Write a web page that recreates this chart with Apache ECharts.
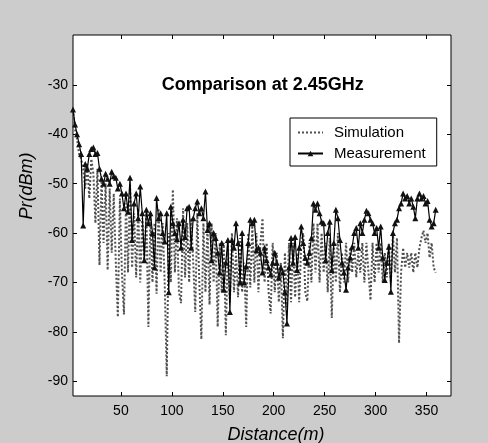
<!DOCTYPE html>
<html><head><meta charset="utf-8">
<script src="https://cdn.jsdelivr.net/npm/echarts@6/dist/echarts.min.js"></script>
<style>html,body{margin:0;padding:0;background:#cccccc;} #c{width:488px;height:443px;}</style>
</head><body><div id="c"></div>
<script>
const distance = [3,5,7,9,11,13,15,17,19,21,23,25,27,29,31,33,35,37,39,41,43,45,47,49,51,53,55,57,59,61,
63,65,67,69,71,73,75,77,79,81,83,85,87,89,91,93,95,97,99,101,103,105,107,109,111,113,115,117,119,121,
123,125,127,129,131,133,135,137,139,141,143,145,147,149,151,153,155,157,159,161,163,165,167,169,171,
173,175,177,179,181,183,185,187,189,191,193,195,197,199,201,203,205,207,209,211,213,215,217,219,221,
223,225,227,229,231,233,235,237,239,241,243,245,247,249,251,253,255,257,259,261,263,265,267,269,271,
273,275,277,279,281,283,285,287,289,291,293,295,297,299,301,303,305,307,309,311,313,315,317,319,321,
323,325,327,329,331,333,335,337,339,341,343,345,347,349,351,353,355,357,359];
const simulation = [-35,-39,-41,-44,-45, -47,-51,-46,-53,-45, -48,-58,-47,-66.5,-49, -62,-50,-67.5,-51,-64,
-52,-66,-77,-53,-68, -76.5,-54,-68,-50,-67, -56,-69,-55,-70,-57, -66,-56,-79,-56,-70,
-58,-72.3,-55,-68,-58, -70,-89,-60,-70,-51.2, -68,-57,-72,-74.2,-55, -69,-58,-70,-57,-66,
-76,-56,-70,-81.5,-58, -72,-58,-74.5,-58,-70, -60,-79,-62,-72,-62, -80.7,-62,-74,-60,-72,
-64,-73,-61,-72,-66, -79,-60,-71,-58.5,-70, -60,-72,-62,-57,-70, -62,-72,-76.3,-62,-72,
-64,-74,-66,-81.3,-64, -75,-62,-74,-62,-73, -64,-74,-62,-60,-72, -73.8,-62,-70,-58,-68,
-58,-70,-60,-68,-62, -72,-61,-77.2,-62,-70, -60,-72,-64,-70,-62, -70,-63,-68,-62,-69,
-64,-68,-62,-70,-62, -68,-73.6,-62,-70,-62, -68,-62,-70,-64,-69, -62,-70,-60,-68,-61,
-82.3,-68,-63,-67,-64, -67,-64,-68,-64,-67, -63,-61,-59.5,-62,-60, -65,-62,-67,-68];
const measurement = [-35,-38,-40,-42,-44, -58.5,-46,-47,-44,-43, -42.7,-44,-43.8,-47,-49, -50,-48,-49,-50,-47.6,
-48.5,-48.8,-51,-50,-52, -55,-52,-55.7,-48.8,-61.4, -54,-52,-57,-50.6,-56, -65.5,-55.3,-58,-56,-60,
-67,-52.9,-57,-56,-60, -61.7,-56,-72,-54.7,-58, -60,-61.2,-58,-63,-57.3, -60.8,-55,-54.7,-63,-57,
-55,-53.6,-56,-55,-57, -51.6,-59.4,-58,-65.5,-60, -61,-64,-68,-62,-71.5, -66,-61.4,-76,-61.4,-63,
-58,-62,-70,-60,-70, -66.8,-62,-57.3,-58,-57.3, -63.5,-63,-64,-68,-63, -65.5,-67,-68.4,-66,-64,
-66,-69,-67,-68,-72, -78.3,-67,-61,-66,-60.8, -67.5,-63,-58.7,-62,-65, -66,-64,-61,-54,-55.3,
-54,-56,-57.7,-58,-65.5, -60,-57.7,-67.5,-62,-55.3, -57,-61.4,-66,-68,-71.5, -67,-65,-62.8,-60,-59,
-63,-58,-60,-57.3,-55.5, -56,-57.3,-58,-60,-59, -63,-58.7,-65,-69.5,-66, -62.8,-71.9,-60,-58,-57.3,
-55,-54,-52,-53,-52.5, -54,-53,-54.7,-57,-53, -52,-53,-52.5,-54,-53.5, -57.3,-58.7,-58,-55.3];
const xTicks = [50,100,150,200,250,300,350];
const yTicks = [-90,-80,-70,-60,-50,-40,-30];
const chartTitle = 'Comparison at 2.45GHz';
const xName = 'Distance(m)';
const yName = 'Pr(dBm)';
const seriesNames = ['Simulation','Measurement'];

const F = "'Liberation Sans', Arial, sans-serif";
function xAx(pos, showLabel) {
  return {type:'value', position:pos, min:3, max:374, axisLine:{show:false}, splitLine:{show:false},
    axisTick:{show:true, inside:true, length:4, customValues:xTicks, lineStyle:{color:'#000'}},
    axisLabel:{show:showLabel, customValues:xTicks, color:'#000', fontSize:14, fontFamily:F, margin:8}};
}
function yAx(pos, showLabel) {
  return {type:'value', position:pos, min:-93, max:-19.9, axisLine:{show:false}, splitLine:{show:false},
    axisTick:{show:true, inside:true, length:4, customValues:yTicks, lineStyle:{color:'#000'}},
    axisLabel:{show:showLabel, customValues:yTicks, color:'#000', fontSize:14, fontFamily:F, margin:5}};
}
const chart = echarts.init(document.getElementById('c'));
chart.setOption({
  backgroundColor:'#cccccc',
  animation:false,
  grid:{left:73, top:35, width:378, height:361, show:true, backgroundColor:'#fff', borderColor:'#000', borderWidth:1},
  xAxis:[xAx('bottom', true), xAx('top', false)],
  yAxis:[yAx('left', true), yAx('right', false)],
  legend:{data:[{name:seriesNames[0], itemStyle:{opacity:0}}, {name:seriesNames[1]}],
    orient:'vertical', left:290, top:118, padding:[7,11,5,7], itemGap:6,
    itemWidth:25, itemHeight:7, backgroundColor:'#fff', borderColor:'#000', borderWidth:1, borderRadius:0,
    textStyle:{fontSize:15, fontFamily:F, color:'#000', lineHeight:14, padding:[0,0,0,6]}},
  graphic:[
    {type:'text', style:{text:chartTitle, font:"bold 18px 'Liberation Sans', Arial", fill:'#000', x:262.7, y:85, align:'center', verticalAlign:'middle'}},
    {type:'text', style:{text:xName, font:"italic 18px 'Liberation Sans', Arial", fill:'#000', x:276, y:435, align:'center', verticalAlign:'middle'}},
    {type:'text', x:27, y:186, rotation:Math.PI/2, style:{text:yName, font:"italic 18px 'Liberation Sans', Arial", fill:'#000', x:0, y:0, align:'center', verticalAlign:'middle'}}
  ],
  series:[
    {type:'line', name:seriesNames[0], data:distance.map((d,i)=>[d, simulation[i]]), symbol:'none',
      lineStyle:{type:[2,2], width:2, color:'#505050'}, itemStyle:{color:'#505050'}, z:2},
    {type:'line', name:seriesNames[1], data:distance.map((d,i)=>[d, measurement[i]]), symbol:'triangle', symbolSize:6,
      showAllSymbol:true, lineStyle:{width:1.2, color:'#000'}, itemStyle:{color:'#111'}, z:3}
  ]
});
</script></body></html>
